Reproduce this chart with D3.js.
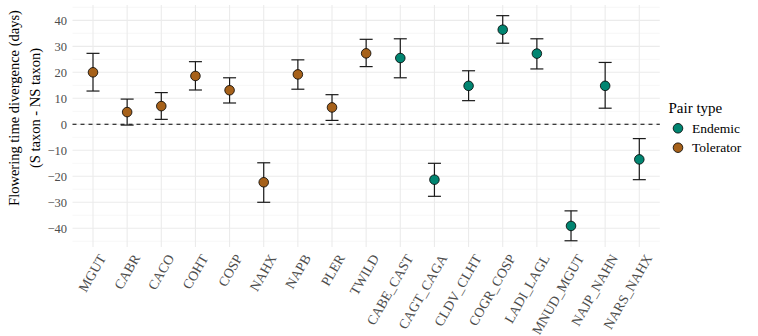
<html>
<head>
<style>
  body { margin: 0; background: #fff; }
</style>
</head>
<body>
<svg id="chart" width="758" height="336" font-family="'Liberation Serif', 'Times New Roman', Times, serif"></svg>
<script src="https://cdn.jsdelivr.net/npm/d3@7"></script>
<script>
// pair names, in plotting order
const pairs = ["MGUT", "CABR", "CACO", "COHT", "COSP", "NAHX", "NAPB", "PLER", "TWILD",
  "CABE_CAST", "CAGT_CAGA", "CLDV_CLHT", "COGR_COSP", "LADI_LAGL", "MNUD_MGUT", "NAJP_NAHN", "NARS_NAHX"];
const pairType = ["Tolerator", "Tolerator", "Tolerator", "Tolerator", "Tolerator", "Tolerator", "Tolerator", "Tolerator", "Tolerator",
  "Endemic", "Endemic", "Endemic", "Endemic", "Endemic", "Endemic", "Endemic", "Endemic"];
const divergence = [20.0, 4.7, 7.0, 18.6, 13.1, -22.3, 19.2, 6.5, 27.3,
  25.5, -21.3, 14.8, 36.4, 27.2, -39.1, 14.8, -13.5];
const lower = [12.8, -0.3, 1.9, 13.2, 8.2, -30.0, 13.5, 1.5, 22.2,
  17.9, -27.7, 9.1, 31.2, 21.3, -44.8, 6.2, -21.3];
const upper = [27.3, 9.7, 12.2, 24.1, 17.9, -14.8, 24.8, 11.4, 32.7,
  32.9, -15.0, 20.6, 41.8, 32.9, -33.3, 23.8, -5.5];
const yTicks = [-40, -30, -20, -10, 0, 10, 20, 30, 40];
const yMinor = [-45, -35, -25, -15, -5, 5, 15, 25, 35, 45];
const legendTypes = ["Endemic", "Tolerator"];

const data = pairs.map((p, i) => ({ pair: p, type: pairType[i], y: divergence[i], lo: lower[i], hi: upper[i] }));

const svg = d3.select("#chart");
const panel = { left: 72.5, right: 659.8, top: 5, bottom: 247 };

const x = d3.scalePoint().domain(pairs).range([93, 639.3]);
const y = d3.scaleLinear().domain([-47.2, 45.9]).range([panel.bottom, panel.top]);
const colour = d3.scaleOrdinal().domain(legendTypes).range(["#018571", "#a6611a"]);

// grid
const grid = svg.append("g");
grid.selectAll(".minor").data(yMinor).enter().append("line")
  .attr("x1", panel.left).attr("x2", panel.right)
  .attr("y1", d => y(d)).attr("y2", d => y(d))
  .attr("stroke", "#f2f2f2").attr("stroke-width", 0.6);
grid.selectAll(".major").data(yTicks).enter().append("line")
  .attr("x1", panel.left).attr("x2", panel.right)
  .attr("y1", d => y(d)).attr("y2", d => y(d))
  .attr("stroke", "#ebebeb").attr("stroke-width", 1.1);
grid.selectAll(".vmajor").data(pairs).enter().append("line")
  .attr("x1", d => x(d)).attr("x2", d => x(d))
  .attr("y1", panel.top).attr("y2", panel.bottom)
  .attr("stroke", "#ebebeb").attr("stroke-width", 1.1);

// y axis labels
svg.append("g").selectAll("text").data(yTicks).enter().append("text")
  .attr("x", 67).attr("y", d => y(d)).attr("dy", "0.35em")
  .attr("text-anchor", "end").attr("fill", "#4d4d4d").attr("font-size", 12.5)
  .text(d => d < 0 ? "\u2212" + Math.abs(d) : d);

// x axis labels
svg.append("g").selectAll("text").data(pairs).enter().append("text")
  .attr("transform", d => `translate(${x(d) + 5},${panel.bottom + 6}) rotate(-60)`)
  .attr("text-anchor", "end").attr("dy", "0.7em")
  .attr("fill", "#4d4d4d").attr("font-size", 13.8)
  .text(d => d);

// zero line
svg.append("line")
  .attr("x1", panel.left).attr("x2", panel.right)
  .attr("y1", y(0)).attr("y2", y(0))
  .attr("stroke", "#000").attr("stroke-width", 1.1).attr("stroke-dasharray", "4,4");

// error bars
const bars = svg.append("g").attr("stroke", "#1a1a1a").attr("stroke-width", 1.2);
bars.selectAll(".v").data(data).enter().append("line")
  .attr("x1", d => x(d.pair)).attr("x2", d => x(d.pair))
  .attr("y1", d => y(d.lo)).attr("y2", d => y(d.hi));
bars.selectAll(".lo").data(data).enter().append("line")
  .attr("x1", d => x(d.pair) - 6.5).attr("x2", d => x(d.pair) + 6.5)
  .attr("y1", d => y(d.lo)).attr("y2", d => y(d.lo));
bars.selectAll(".hi").data(data).enter().append("line")
  .attr("x1", d => x(d.pair) - 6.5).attr("x2", d => x(d.pair) + 6.5)
  .attr("y1", d => y(d.hi)).attr("y2", d => y(d.hi));

// points
svg.append("g").selectAll("circle").data(data).enter().append("circle")
  .attr("cx", d => x(d.pair)).attr("cy", d => y(d.y)).attr("r", 4.8)
  .attr("fill", d => colour(d.type)).attr("stroke", "#000").attr("stroke-width", 0.8);

// y title
const yt = svg.append("text")
  .attr("transform", "translate(19,108) rotate(-90)")
  .attr("text-anchor", "middle").attr("font-size", 14.5).attr("fill", "#000");
yt.append("tspan").attr("x", 0).attr("y", 0).text("Flowering time divergence (days)");
yt.append("tspan").attr("x", 0).attr("y", 21).text("(S taxon - NS taxon)");

// legend
const lg = svg.append("g");
lg.append("text").attr("x", 668.5).attr("y", 113).attr("font-size", 15).attr("fill", "#000").text("Pair type");
const items = lg.selectAll(".item").data(legendTypes).enter().append("g")
  .attr("transform", (d, i) => `translate(678,${128.3 + i * 19.4})`);
items.append("circle").attr("r", 4.8).attr("fill", d => colour(d)).attr("stroke", "#000").attr("stroke-width", 0.8);
items.append("text").attr("x", 14).attr("dy", "0.35em").attr("font-size", 13.5).attr("fill", "#000").text(d => d);
</script>
</body>
</html>
